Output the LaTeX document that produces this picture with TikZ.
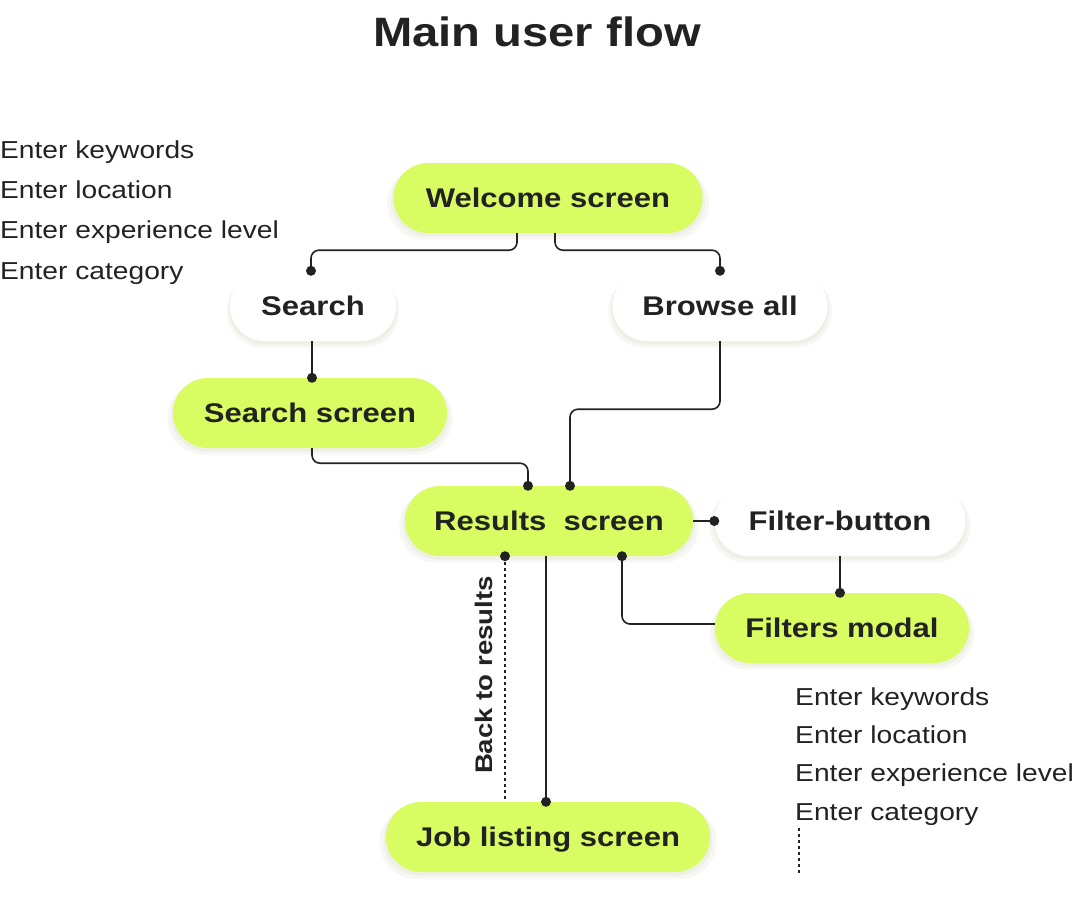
\documentclass[tikz,border=0pt]{standalone}
\usepackage{fontspec}
\setmainfont[FakeStretch=1.15]{Liberation Sans}
\usetikzlibrary{calc,shadows}
\definecolor{lime}{HTML}{D9FC63}
\definecolor{ink}{HTML}{222222}
\definecolor{shadowc}{HTML}{B8C49A}
\tikzset{
  pill/.style={rectangle, rounded corners=35pt, minimum height=70pt, inner sep=0pt,
    text height=19pt, text depth=0pt,
    text=ink, font=\fontsize{27}{32}\selectfont\bfseries,
    general shadow={fill=shadowc, opacity=0.12, shadow scale=1.04, shadow yshift=-5pt},
    general shadow={fill=shadowc, opacity=0.12, shadow scale=1.015, shadow yshift=-3pt}},
  limepill/.style={pill, fill=lime},
  whitepill/.style={pill, fill=white},
  conn/.style={draw=ink, line width=1.6pt, rounded corners=8pt},
  dotconn/.style={draw=ink, line width=1.6pt, dash pattern=on 3pt off 3pt},
  listtext/.style={anchor=base west, inner sep=0pt, text=ink, font=\fontsize{24.5}{28}\selectfont},
  enddot/.style={fill=ink, draw=none}
}
\begin{document}
\begin{tikzpicture}[x=1pt,y=-1pt]
\useasboundingbox[fill=white] (0,0) rectangle (1076,902);

\node[text=ink, inner sep=0pt, anchor=base, font=\fontsize{41}{48}\selectfont\bfseries] (title) at (537,46) {Main user flow};

% left list
\node[listtext] (l1) at (0,158) {Enter keywords};
\node[listtext] (l2) at (0,198) {Enter location};
\node[listtext] (l3) at (0,238) {Enter experience level};
\node[listtext] (l4) at (0,279) {Enter category};

% right list
\node[listtext] (r1) at (795,705) {Enter keywords};
\node[listtext] (r2) at (795,743) {Enter location};
\node[listtext] (r3) at (795,781) {Enter experience level};
\node[listtext] (r4) at (795,820) {Enter category};
\coordinate (rdotA) at (799,828);
\coordinate (rdotB) at (799,873);

% nodes
\node[limepill, minimum width=309pt] (wel) at (548,198) {Welcome screen};
\node[whitepill, minimum width=166pt] (srch) at (313,306) {Search};
\node[whitepill, minimum width=215pt] (brw) at (720,306) {Browse all};
\node[limepill, minimum width=274pt] (ss) at (310,413) {Search screen};
\node[limepill, minimum width=288pt] (res) at (549,521) {Results\ \ screen};
\node[whitepill, minimum width=251pt] (fb) at (840,521) {Filter-button};
\node[limepill, minimum width=254pt] (fm) at (842,628) {Filters modal};
\node[limepill, minimum width=324pt] (job) at (548,837) {Job listing screen};

% connectors
\draw[conn] ([xshift=-31pt]wel.south) -- ++(0,17) -| ([xshift=-2pt]srch.north);
\fill[enddot] ([xshift=-2pt]srch.north) circle (5pt);

\draw[conn] ([xshift=7pt]wel.south) -- ++(0,17) -| (brw.north);
\fill[enddot] (brw.north) circle (5pt);

\draw[conn] ([xshift=-1pt]srch.south) -- ([xshift=-1pt]srch.south |- ss.north);
\fill[enddot] ([xshift=-1pt]srch.south |- ss.north) circle (5pt);

\draw[conn] ([xshift=2pt]ss.south) -- ++(0,15) -| ([xshift=-21pt]res.north);
\fill[enddot] ([xshift=-21pt]res.north) circle (5pt);

\draw[conn] (brw.south) -- ++(0,68) -| ([xshift=21pt]res.north);
\fill[enddot] ([xshift=21pt]res.north) circle (5pt);

\draw[conn] (res.east) -- (fb.west);
\fill[enddot] (fb.west) circle (5pt);

\draw[conn] (fb.south) -- (fb.south |- fm.north);
\fill[enddot] (fb.south |- fm.north) circle (5pt);

\draw[conn] ([yshift=4pt]fm.west) -| ([xshift=73pt]res.south);
\fill[enddot] ([xshift=73pt]res.south) circle (5pt);

\draw[dotconn] ([xshift=-44pt]res.south) -- ([xshift=-44pt]res.south |- job.north);
\fill[enddot] ([xshift=-44pt]res.south) circle (5pt);
\node[rotate=90, text=ink, inner sep=0pt, text height=17pt, text depth=0pt, font=\fontsize{24}{28}\selectfont\bfseries] (back) at (484,675) {Back to results};

\draw[conn] ([xshift=-3pt]res.south) -- ([xshift=-3pt]res.south |- job.north);
\fill[enddot] ([xshift=-3pt]res.south |- job.north) circle (5pt);

\draw[dotconn] (rdotA) -- (rdotB);
\end{tikzpicture}
\end{document}
